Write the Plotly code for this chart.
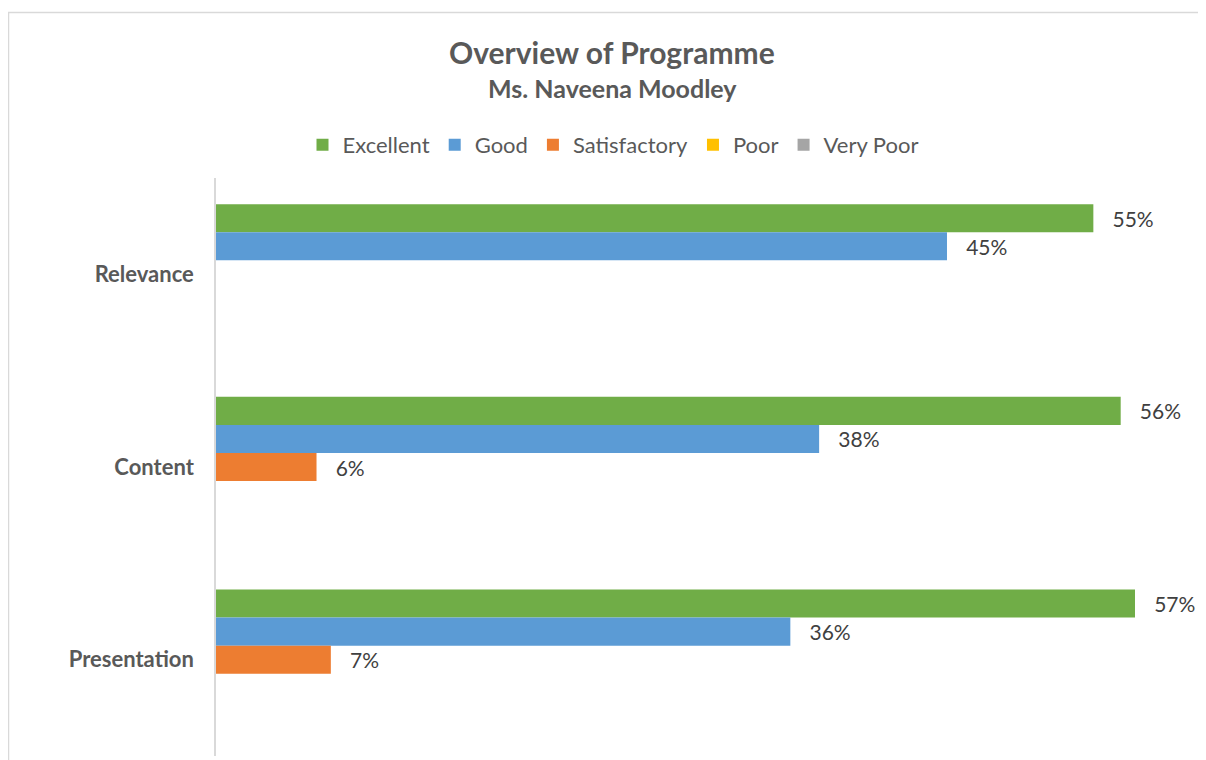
import plotly.graph_objects as go

categories = ["Relevance", "Content", "Presentation"]
series_names = ["Excellent", "Good", "Satisfactory", "Poor", "Very Poor"]
excellent = [54.55, 56.25, 57.14]
good = [45.45, 37.50, 35.71]
satisfactory = [0, 6.25, 7.14]
poor = [0, 0, 0]
very_poor = [0, 0, 0]
colors = ["#70AD47", "#5B9BD5", "#ED7D31", "#FFC000", "#A5A5A5"]

all_values = [excellent, good, satisfactory, poor, very_poor]

FONT = "Lato"
GREY = "#595959"
PAD = "\u00a0\u00a0\u00a0"

fig = go.Figure()
for name, vals, col in zip(series_names, all_values, colors):
    fig.add_trace(go.Bar(
        y=categories,
        x=[v / 100 for v in vals],
        name=name,
        orientation="h",
        marker=dict(color=col, line=dict(width=0)),
        text=[f"{PAD}{int(v + 0.5)}%" if v > 0 else "" for v in vals],
        textposition="outside",
        textfont=dict(family=FONT, size=21, color="#404040"),
        cliponaxis=False,
    ))

# page has an 8px body margin; reference pixel coords are shifted by OFF
OFF = 8
W, H = 1206 - OFF, 760 - OFF
L, T = 216 - OFF, 178 - OFF
PW, PH = 965, 578
R = W - L - PW
B = H - T - PH


def px_x(x):
    return (x - OFF - L) / PW


def px_y(y):
    return (T + PH - (y - OFF)) / PH


fig.update_layout(
    width=W, height=H,
    margin=dict(l=L, r=R, t=T, b=B),
    paper_bgcolor="white",
    plot_bgcolor="white",
    barmode="group",
    bargap=0.272,
    bargroupgap=0,
    font=dict(family=FONT, color=GREY),
    showlegend=True,
    legend=dict(
        orientation="h",
        x=px_x(613), xanchor="center",
        y=px_y(145), yanchor="middle",
        font=dict(family=FONT, size=22, color=GREY),
        itemclick=False,
        itemwidth=30,
        traceorder="normal",
    ),
    xaxis=dict(range=[0, 0.6], visible=False, fixedrange=True),
    yaxis=dict(
        autorange="reversed",
        showline=True, linecolor="#D9D9D9", linewidth=1.5,
        showgrid=False, zeroline=False,
        ticks="",
        ticklabelstandoff=16,
        tickfont=dict(family=FONT, size=22, color=GREY, weight="bold"),
    ),
    annotations=[
        dict(text="<b>Overview of Programme</b>", x=px_x(612), y=px_y(52),
             xref="paper", yref="paper", xanchor="center", yanchor="middle",
             showarrow=False, font=dict(family=FONT, size=30, color=GREY)),
        dict(text="<b>Ms. Naveena Moodley</b>", x=px_x(612), y=px_y(88),
             xref="paper", yref="paper", xanchor="center", yanchor="middle",
             showarrow=False, font=dict(family=FONT, size=25, color=GREY)),
    ],
    shapes=[
        dict(type="rect", xref="paper", yref="paper",
             x0=px_x(8.5), x1=px_x(1230), y0=px_y(800), y1=px_y(12.5),
             line=dict(color="#D9D9D9", width=1.5), fillcolor="rgba(0,0,0,0)",
             layer="below"),
    ],
)

fig.write_html("out.html")
